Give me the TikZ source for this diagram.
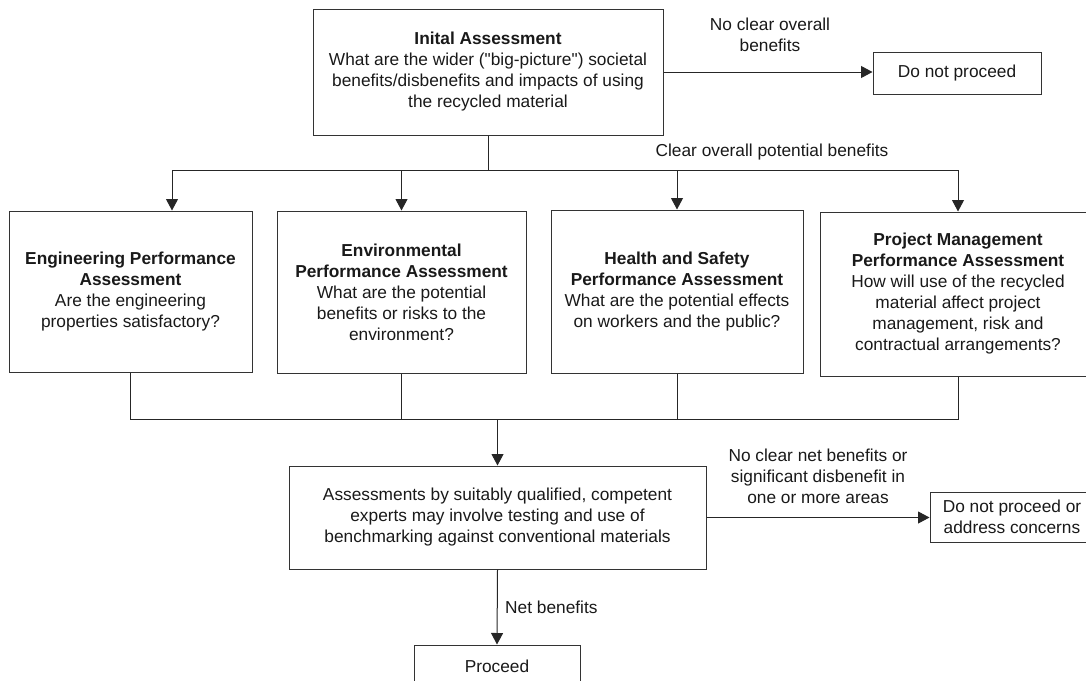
\documentclass[tikz,border=0pt]{standalone}
\usepackage{fontspec}
\setmainfont{Liberation Sans}
\usetikzlibrary{arrows.meta,calc}
\begin{document}
\begin{tikzpicture}[x=1pt,y=-1pt,
  box/.style={draw=black!80, line width=1pt, rectangle, align=center,
    font=\fontsize{17.3}{21}\selectfont, inner sep=0pt, text=black!90},
  lbl/.style={align=center, font=\fontsize{17.3}{21}\selectfont,
    inner sep=0pt, text=black!90},
  conn/.style={draw=black!85, line width=1pt},
  arr/.style={conn, -{Triangle[width=12pt,length=11.5pt]}},
]
\useasboundingbox (0,0) rectangle (1086,680);

% top level
\node[box, minimum width=350pt, minimum height=126pt] (init) at (488,72)
  {\textbf{Inital Assessment}\\What are the wider (\textquotedbl big-picture\textquotedbl) societal\\benefits/disbenefits and impacts of using\\the recycled material};
\node[box, minimum width=168pt, minimum height=42pt] (dnp) at (957,73)
  {Do not proceed};

% the four assessments
\node[box, minimum width=243pt, minimum height=161pt] (eng) at (130.5,291.5)
  {\textbf{Engineering Performance}\\\textbf{Assessment}\\Are the engineering\\properties satisfactory?};
\node[box, minimum width=249pt, minimum height=162pt] (env) at (401.5,292)
  {\textbf{Environmental}\\\textbf{Performance Assessment}\\What are the potential\\benefits or risks to the\\environment?};
\node[box, minimum width=252pt, minimum height=163pt] (hs) at (677,291.5)
  {\textbf{Health and Safety}\\\textbf{Performance Assessment}\\What are the potential effects\\on workers and the public?};
\node[box, minimum width=276pt, minimum height=164pt] (pm) at (958,294)
  {\textbf{Project Management}\\\textbf{Performance Assessment}\\How will use of the recycled\\material affect project\\management, risk and\\contractual arrangements?};

% expert review and outcomes
\node[box, minimum width=417pt, minimum height=103pt] (assess) at (497.5,517.5)
  {Assessments by suitably qualified, competent\\experts may involve testing and use of\\benchmarking against conventional materials};
\node[box, minimum width=164pt, minimum height=50pt] (dnp2) at (1012,517)
  {Do not proceed or\\address concerns};
\node[box, minimum width=166pt, minimum height=42pt] (proceed) at (497,666)
  {Proceed};

% labels
\node[lbl] (l1) at (770,35) {No clear overall\\benefits};
\node[lbl] (l2) at (772,152) {Clear overall potential benefits};
\node[lbl] (l3) at (818,476) {No clear net benefits or\\significant disbenefit in\\one or more areas};
\node[lbl, anchor=west] (l4) at (505,607) {Net benefits};

% connectors
\draw[arr] (init.east) -- (init.east -| dnp.west);
\draw[conn] (init.south) -- ++(0,35) coordinate (split);
\coordinate (engin) at ([xshift=41.5pt]eng.north);
\draw[arr] (split) -| (engin);
\draw[arr] (split) -| (env.north);
\draw[arr] (split) -| (hs.north);
\draw[arr] (split) -| (pm.north);

\coordinate (join) at ([yshift=46pt]assess.north);
\draw[conn] (eng.south) |- (join);
\draw[conn] (pm.south) |- (join);
\draw[conn] (env.south) -- (env.south |- join);
\draw[conn] (hs.south) -- (hs.south |- join);
\draw[arr] (join) -- (assess.north);

\draw[arr] (assess.east) -- (assess.east -| dnp2.west);
\draw[arr] (assess.south) -- (proceed.north);
\end{tikzpicture}
\end{document}
